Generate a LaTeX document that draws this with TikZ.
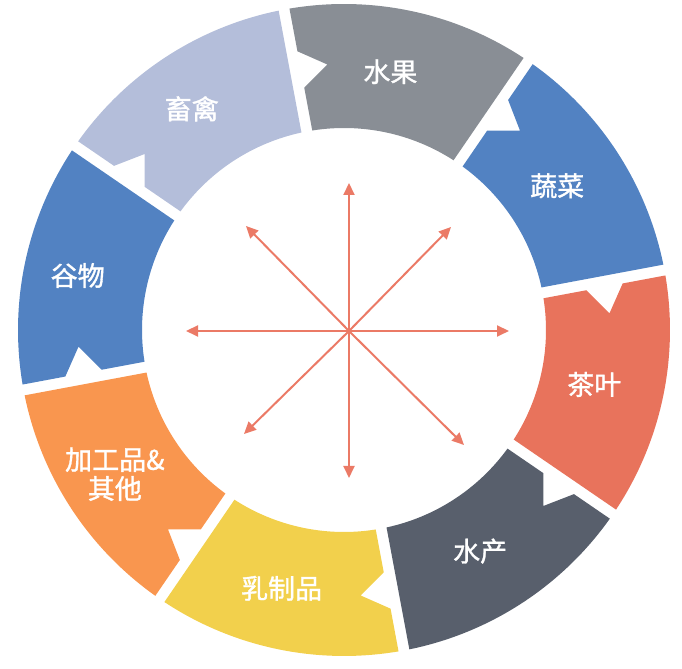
\documentclass[tikz,border=0pt]{standalone}
\usepackage{fontspec}
\setmainfont{Noto Sans CJK SC}[FakeBold=1.2]
\usetikzlibrary{
	arrows.meta,
	calc,
	positioning,
}
\definecolor{FruitGray}{HTML}{898E95}
\definecolor{VegBlue}{HTML}{5282C2}
\definecolor{TeaRed}{HTML}{E8735C}
\definecolor{AquaSlate}{HTML}{585F6C}
\definecolor{DairyYellow}{HTML}{F2D04C}
\definecolor{ProcOrange}{HTML}{F9964F}
\definecolor{LivestockLav}{HTML}{B4BEDA}
\definecolor{Spoke}{HTML}{EB7A66}
\tikzset{every picture/.style={/utils/exec={\fontsize{13.5}{14.5}\selectfont}}}

\begin{document}
\begin{tikzpicture} [
			x=0.5pt,y=0.5pt,
			every node/.style={align=center,text=white},
			spoke/.style={draw=Spoke,line width=1pt,-{Triangle[length=6pt,width=5.5pt]}}
		]
		\useasboundingbox (0,0) rectangle (682,669);
		\coordinate (ring) at (344,339);
		\def\Rout{326} \def\Rin{202} \def\gap{5.5}

		% segments, notch on the side the cycle comes from
		\foreach \a/\col/\name/\txt in {
				100.6/FruitGray/fruit/水果,
				55.6/VegBlue/veg/蔬菜,
				10.6/TeaRed/tea/茶叶,
				-34.4/AquaSlate/aquatic/水产,
				-79.4/DairyYellow/dairy/乳制品,
				-124.4/ProcOrange/processed/{加工品\&\\其他},
				-169.4/VegBlue/grain/谷物,
				145.6/LivestockLav/livestock/畜禽} {
			\pgfmathsetmacro{\b}{\a-45}
			\pgfmathsetmacro{\dO}{asin(\gap/\Rout)}
			\pgfmathsetmacro{\dI}{asin(\gap/\Rin)}
			\fill[\col] ($(ring)+(\a-\dO:\Rout)$)
				arc[start angle=\a-\dO, end angle=\b+\dO, radius=\Rout]
				-- ($(ring)+(\b+\dI:\Rin)$)
				arc[start angle=\b+\dI, end angle=\a-\dI, radius=\Rin]
				-- ($(ring)+(\a:245.5)+(\a-90:\gap)$)
				-- ($(ring)+(\a:264)+(\a-90:\gap+27)$)
				-- ($(ring)+(\a:282.5)+(\a-90:\gap)$) -- cycle;
			\node (\name) at ($(ring)+(\a-22.5:264)+(-8,0)$) {\txt};
		}

		% arrows from the middle
		\coordinate (hub) at (349,338);
		\coordinate (n) at (349,486);
		\coordinate (ne) at (451,442);
		\coordinate (e) at (509,338);
		\coordinate (se) at (464,224);
		\coordinate (s) at (349,191);
		\coordinate (sw) at (244,235);
		\coordinate (w) at (186,338);
		\coordinate (nw) at (246,443);
		\foreach \t in {n,ne,e,se,s,sw,w,nw}
			\draw[spoke] (hub) -- (\t);
	\end{tikzpicture}
\end{document}
